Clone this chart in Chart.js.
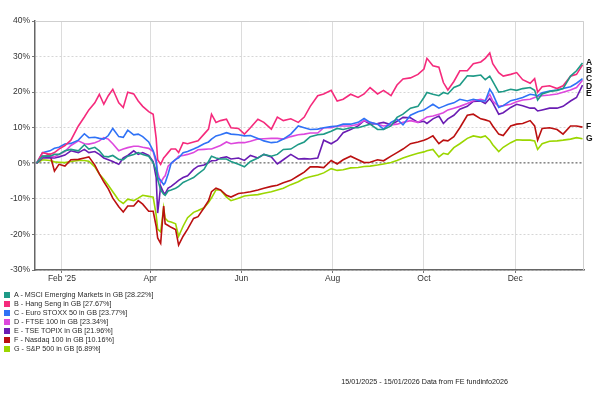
<!DOCTYPE html>
<html>
<head>
<meta charset="utf-8">
<script src="https://cdn.jsdelivr.net/npm/chart.js@4.4.1/dist/chart.umd.min.js"></script>
<style>
  html, body { margin: 0; padding: 0; background: #fff; }
  #wrap { position: relative; width: 600px; height: 403px; overflow: hidden; }
  #c { position: absolute; left: 0; top: 0; }
  #legend { position: absolute; left: 4px; top: 290px; font: 7.2px 'Liberation Sans', Arial, sans-serif; color: #2a2a2a; line-height: 9px; }
  #legend div { white-space: nowrap; }
  #legend .sw { display: inline-block; width: 6px; height: 6px; margin-right: 4px; vertical-align: -0.5px; }
  #foot { position: absolute; right: 92px; top: 377px; font: 7.2px 'Liberation Sans', Arial, sans-serif; color: #222; white-space: nowrap; }
</style>
</head>
<body>
<div id="wrap">
  <canvas id="c" width="600" height="403"></canvas>
  <div id="legend"></div>
  <div id="foot">15/01/2025 - 15/01/2026 Data from FE fundinfo2026</div>
</div>
<script>
// days since 15/01/2025
const days = [0,4,9,12,15,19,23,28,32,35,
  39,42,45,48,51,55,58,61,65,68,
  71,75,78,80,81,83,85,86,88,90,
  93,95,98,101,105,108,112,115,117,120,
  123,127,130,135,139,143,148,152,157,161,
  165,170,175,179,183,188,192,197,201,205,
  210,215,219,223,228,232,237,241,245,250,
  255,259,261,265,269,272,275,279,283,288,
  292,297,300,303,305,309,312,317,321,325,
  330,333,335,338,343,348,352,357,361,365];

// cumulative % change
const msciEM = [0,2,2,2.5,2.5,3.5,3.9,3.5,5.2,4,
  4.5,3.5,2,1.8,2.2,1.1,1,2,2.5,3,
  2.5,2,0.2,-2,-4.5,-7.5,-8.7,-9,-7.8,-7.5,
  -7,-6.5,-5.4,-4.8,-4,-3,-1.7,0.5,2,1.5,
  1.2,1.2,0.5,-0.3,-1,0.5,1.5,2.5,2,2.5,
  3.9,4,5.3,6,7.5,8,8.2,9,9.8,9.5,
  10,10,10.5,11,9.5,9.5,10.5,12.9,13.8,15.5,
  16,18.5,19.9,19.4,19,19.9,19.5,21.3,22,24.6,
  24.5,24.8,23.5,24.5,23,20,20.2,20.8,20.5,21,
  21.3,20.5,17.8,19.5,20.2,20.5,21,24.5,26,28.22];

const hangSeng = [0,3,2.5,3,4,5,6.5,10.5,13,15,
  17,19.4,16.6,19,20.8,17,15.7,20,19.5,17.5,
  16,14.5,13.8,7,1,-0.3,1.5,2,3,4,
  4,3,5.8,5.5,6,6.3,8.2,9.6,13.8,11.5,
  12,12.4,10,9.8,8.2,10,12.4,11.5,9.6,13,
  12,12.5,11.5,13,16,19,19.5,20.5,17.5,18,
  19.4,18.5,19.5,21.3,19.5,20.5,19,22,23.7,24,
  25,26.5,29.5,27.4,27,22.7,20.6,23,26,26,
  28,28.5,29.5,31,28,25.5,24.5,25,25.5,23.5,
  22.5,23.8,20,21.5,21.8,21,21.8,24.5,25,27.67];

const euroStoxx = [0,3,3.5,4.2,4.5,5.4,5.6,6.5,8.3,7.2,
  7.3,7,6.8,7.8,9.8,7.5,7.3,9.3,8,8.2,
  7.5,6,3.5,1,-4,-4.8,-6,-5.5,-3,0,
  1.1,1.5,3,3.3,4,4.6,5.5,6,6.8,7.7,
  8,8.6,8.2,8,7.7,7.8,7,6.3,5.8,6,
  6.8,8.2,10.5,10,9.5,9.6,10,10.3,10.5,11,
  11,11.5,12.6,11.5,11,9.6,11.5,12.4,10.8,13.5,
  14.5,15,15.5,16.6,15.5,16,16.5,17,18,17.5,
  18,17.5,17.5,20.8,19.5,15.7,16.2,17.6,18,18.5,
  19.4,19.2,19,19.8,20.3,20.6,21,21.5,22.5,23.77];

const ftse100 = [0,2,2,1.8,2.5,3.3,5,6.3,5.5,5.4,
  5.8,6.3,7.2,6.8,5.5,3.5,4,4.4,4.8,4.8,
  4.5,4.2,3.3,0,-2.6,-5.4,-4,-3.5,-0.8,0,
  1,2,2.2,2.5,3,3.8,3.9,4,4,4.5,
  5,6,5.5,5.8,5.8,6.2,6.8,6.9,7,7,
  6.8,7.5,8,8.2,8.5,8.5,10,10,10.5,10.5,
  10.5,11,12,11.5,11,10.5,10.8,11,11.5,12,
  11.5,12.5,13,13.3,13.8,14.2,15,15.5,16,16.8,
  17.6,18,17.6,19.4,17.5,16,16.2,16.6,17.3,17.8,
  18,18.5,18.8,19,19.2,19.5,20,20.6,21.3,23.34];

const topix = [0,1.5,1.6,1.5,1.8,2.3,3.5,3,3.9,3,
  3.3,2.5,1.5,1,0.5,-0.3,1.5,2.2,3.5,2.5,
  3,2.2,0.5,-4,-14,-6.4,-8.3,-8.5,-7,-6.5,
  -5.5,-4.8,-4,-3.5,-1.7,-0.8,-0.5,0.2,0.7,0.8,
  1.5,1.8,1.2,1.5,0.8,2.2,1.5,2.5,1.8,-0.2,
  1,2.5,1.2,1.3,1.2,1.5,6.5,5.5,6.5,8.6,
  9.5,10.5,12,11,11.2,11.5,10.8,11.8,12.9,12.8,
  11.5,11.8,11.2,12.5,13.3,11.2,12.5,13.5,15.2,16,
  17.4,17.5,16.8,18.2,17,13.8,14.2,15.7,16.6,16.2,
  15.5,15.5,14.7,15,15.5,15.5,16,17.5,18.5,21.96];

const nasdaq100 = [0,1.8,2.5,-2.2,-0.3,-0.8,1,1.1,1.5,1.8,
  -0.5,-3,-5.2,-7.2,-9.8,-12.2,-13.7,-12,-12,-10.5,
  -11.5,-13.5,-13.5,-17.7,-21,-22.5,-12,-17,-17.5,-18,
  -18.6,-23,-20.5,-18.5,-15.5,-15,-12.5,-10.5,-8,-7,
  -7.5,-9,-9.5,-8.5,-8.3,-8,-7.5,-7,-6.5,-6.2,
  -5.5,-4.8,-3.5,-2.5,-1,-1,-1.2,0.8,-0.2,1,
  2,1,0.2,0.3,1,0.7,2,3,4,5.5,
  6,6.5,6.8,7.7,5.5,6.5,6.3,7.5,10,13.5,
  13.8,12.5,12.2,11.8,10.5,8.2,7.8,10.5,11,11.2,
  12,10.5,6.5,9.8,10,9.5,8.2,10.5,10.5,10.16];

const sp500 = [0,1,0.8,0.4,0.3,0.2,0.5,0.8,0.8,0.6,
  -1,-3,-4.5,-6.2,-8,-10.4,-11.3,-10.1,-10.5,-9.8,
  -9,-9.3,-9.5,-14.5,-18.5,-19.3,-12.5,-15.5,-16.3,-16.5,
  -17,-20.5,-17.7,-15.3,-13.8,-13.3,-12.5,-11,-9.7,-7.5,
  -7.5,-9.5,-10.5,-9.8,-9.2,-9,-8.8,-8.4,-8,-7.5,
  -7,-6,-5.2,-4.3,-3.8,-3.3,-2.7,-1.5,-2,-1.8,
  -1.3,-1.2,-0.9,-0.8,-0.5,-0.2,0.2,0.8,1.5,2.2,
  2.8,3.2,3.5,3.9,1.8,2.8,2.5,4.4,5.5,7,
  7.7,7.3,7.7,6.5,5.2,3.3,4.5,5.8,6.6,6.5,
  6.5,6.3,3.9,5.5,6.2,6.3,6.5,6.8,7.2,6.89];

const letters = ['A', 'B', 'C', 'D', 'E', 'F', 'G'];
const names = ['MSCI Emerging Markets in GB', 'Hang Seng in GB', 'Euro STOXX 50 in GB', 'FTSE 100 in GB', 'TSE TOPIX in GB', 'Nasdaq 100 in GB', 'S&P 500 in GB'];
const totals = ['28.22', '27.67', '23.77', '23.34', '21.96', '10.16', '6.89'];
const colors = ['#1f9a87', '#f52a7c', '#2f72f6', '#dd48dd', '#6a1cb3', '#bb1010', '#9bd600'];
const monthTicks = [17, 76, 137, 198, 259, 320];
const monthLabels = ["Feb '25", 'Apr', 'Jun', 'Aug', 'Oct', 'Dec'];

const allSeries = [msciEM, hangSeng, euroStoxx, ftse100, topix, nasdaq100, sp500];

// legend (html)
const legendEl = document.getElementById('legend');
letters.forEach((l, i) => {
    const row = document.createElement('div');
    row.innerHTML = '<span class="sw" style="background:' + colors[i] + '"></span>' +
        l + ' - ' + names[i].replace(/&/g, '&amp;') + ' [' + totals[i] + '%]';
    legendEl.appendChild(row);
});

// light frame on top/right + stacked end letters
const framePlugin = {
    id: 'frame',
    beforeDatasetsDraw(chart) {
        const { ctx, chartArea: a } = chart;
        ctx.save();
        ctx.strokeStyle = '#cfcfcf';
        ctx.lineWidth = 1;
        ctx.beginPath();
        ctx.moveTo(a.left, a.top + 0.5);
        ctx.lineTo(a.right - 0.5, a.top + 0.5);
        ctx.lineTo(a.right - 0.5, a.bottom);
        ctx.stroke();
        ctx.restore();
    },
    afterDatasetsDraw(chart) {
        const { ctx, chartArea: a, scales: { y } } = chart;
        const ys = allSeries.map(s => y.getPixelForValue(s[s.length - 1]));
        const order = ys.map((v, i) => i).sort((p, q) => ys[p] - ys[q]);
        let prev = -Infinity;
        ctx.save();
        ctx.font = 'bold 8.5px "Liberation Sans", Arial, sans-serif';
        ctx.fillStyle = '#111';
        ctx.textBaseline = 'middle';
        order.forEach(i => {
            const py = Math.max(ys[i], prev + 7.6);
            ctx.fillText(letters[i], a.right + 2, py);
            prev = py;
        });
        ctx.restore();
    }
};

new Chart(document.getElementById('c'), {
    type: 'line',
    data: {
        datasets: allSeries.map((s, i) => ({
            label: letters[i] + ' - ' + names[i],
            data: days.map((d, k) => ({ x: d, y: s[k] })),
            borderColor: colors[i],
            backgroundColor: colors[i],
            borderWidth: 1.6,
            pointRadius: 0,
            tension: 0,
            fill: false
        }))
    },
    options: {
        responsive: false,
        animation: false,
        layout: { padding: { left: 0, top: 21, right: 16, bottom: 118 } },
        plugins: { legend: { display: false }, tooltip: { enabled: false } },
        scales: {
            x: {
                type: 'linear',
                min: -1,
                max: 366,
                afterBuildTicks: axis => { axis.ticks = monthTicks.map(v => ({ value: v })); },
                afterFit: axis => { axis.height = 15; },
                ticks: {
                    autoSkip: false,
                    maxRotation: 0,
                    padding: 1,
                    color: '#333',
                    font: { family: '"Liberation Sans", Arial, sans-serif', size: 8.5 },
                    callback: v => monthLabels[monthTicks.indexOf(v)]
                },
                grid: { color: '#dcdcdc', lineWidth: 1, tickLength: 3, tickColor: '#777' },
                border: { color: '#666', width: 1.5 }
            },
            y: {
                min: -30,
                max: 40,
                afterFit: axis => { axis.width = 35; },
                ticks: {
                    stepSize: 10,
                    padding: 2,
                    color: '#333',
                    font: { family: '"Liberation Sans", Arial, sans-serif', size: 8.5 },
                    callback: v => v + '%'
                },
                grid: {
                    color: c => c.tick && c.tick.value === 0 ? '#8a8a8a' : '#d6d6d6',
                    lineWidth: c => c.tick && c.tick.value === 0 ? 1.6 : 1,
                    tickLength: 3,
                    tickColor: '#777'
                },
                border: { color: '#666', width: 1.5, dash: [2, 2] }
            }
        }
    },
    plugins: [framePlugin]
});
</script>
</body>
</html>
